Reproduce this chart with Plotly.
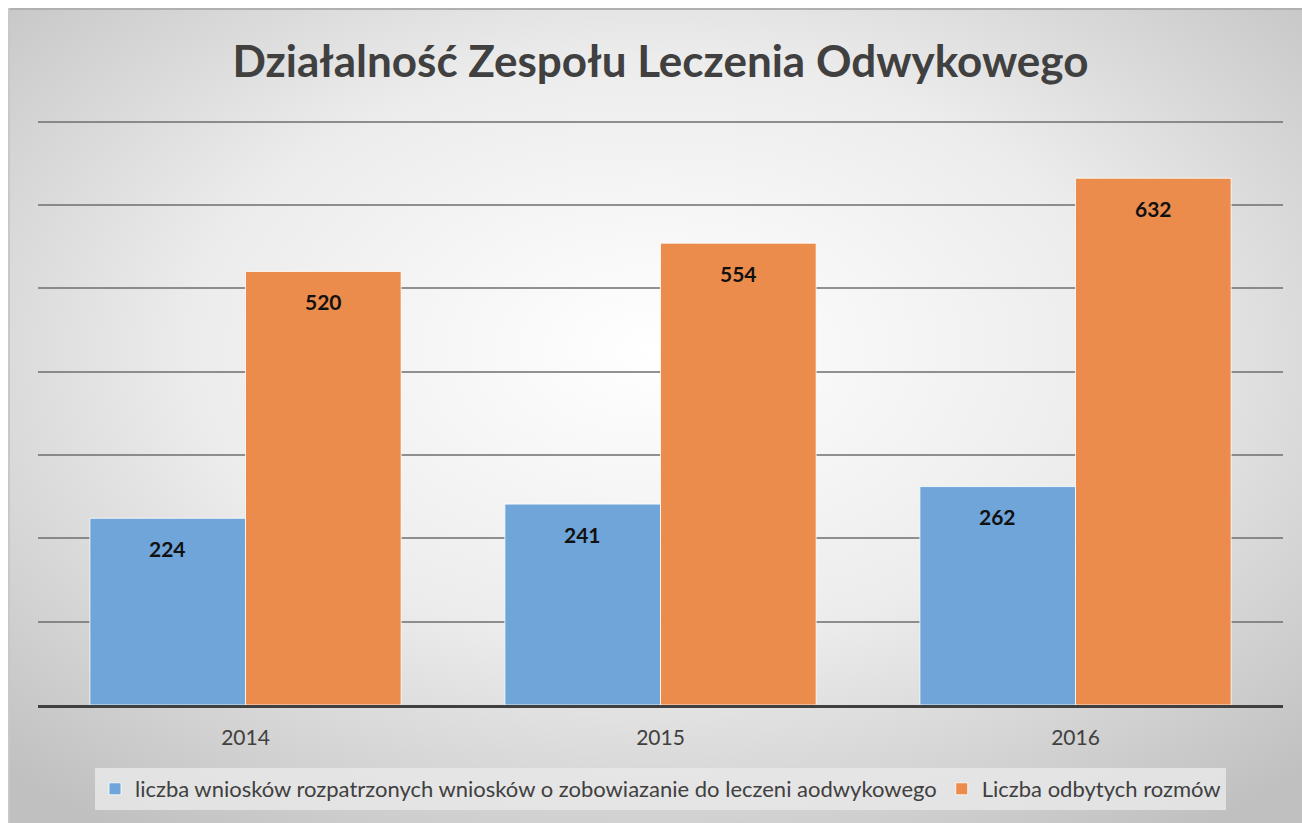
import base64
import plotly.graph_objects as go

years = ["2014", "2015", "2016"]
series1_name = "liczba wniosków rozpatrzonych wniosków o zobowiazanie do leczeni aodwykowego"
series1_vals = [224, 241, 262]
series2_name = "Liczba odbytych rozmów"
series2_vals = [520, 554, 632]
title_text = "Działalność Zespołu Leczenia Odwykowego"

W, H = 1302, 823
YMAX = 703
L, R, T, B = 38, 19, 119, 118
pw, ph = W - L - R, H - T - B
base_px = H - B  # pixel row of the x axis

svg = """<svg xmlns='http://www.w3.org/2000/svg' width='1294' height='815' viewBox='0 0 1294 815' preserveAspectRatio='none'>
<defs><radialGradient id='g' cx='50%' cy='42%' r='72%'>
<stop offset='0%' stop-color='#ffffff'/><stop offset='50%' stop-color='#ececec'/><stop offset='100%' stop-color='#c0c0c0'/>
</radialGradient></defs>
<rect x='0' y='0' width='1294' height='815' fill='url(#g)'/>
<rect x='0' y='0' width='1294' height='2' fill='#b0b0b0'/>
<rect x='0' y='0' width='2' height='815' fill='#c8c8c8'/>
</svg>"""
src = "data:image/svg+xml;base64," + base64.b64encode(svg.encode()).decode()

label_font = dict(family="Lato", size=21, color="#111111", weight="bold")

fig = go.Figure()
fig.add_trace(go.Bar(
    x=years, y=series1_vals, name=series1_name,
    marker=dict(color="#6fa5d9", line=dict(color="rgba(255,255,255,0.8)", width=1)),
))
fig.add_trace(go.Bar(
    x=years, y=series2_vals, name=series2_name,
    marker=dict(color="#eb8c4c", line=dict(color="rgba(255,255,255,0.8)", width=1)),
))

annotations = []
bar_px = pw / len(years) * (1 - 0.25) / 2
for vals, sgn in ((series1_vals, -1), (series2_vals, 1)):
    for i, v in enumerate(vals):
        # category axis: annotation x given as category index
        annotations.append(dict(x=i, y=v, xref="x", yref="y", text=str(v), showarrow=False,
                                xshift=sgn * bar_px / 2, yshift=-30, yanchor="middle",
                                font=label_font))

fig.update_layout(
    width=W, height=H,
    margin=dict(l=L, r=R, t=T, b=B),
    paper_bgcolor="white",
    plot_bgcolor="rgba(0,0,0,0)",
    barmode="group", bargap=0.25, bargroupgap=0,
    font=dict(family="Lato", color="#404040"),
    title=dict(text=title_text, x=0.5, xanchor="center", xref="paper",
               y=1 - 62 / H, yanchor="middle", yref="container",
               font=dict(family="Lato", size=44, color="#404040", weight="bold")),
    xaxis=dict(type="category", showline=True, linecolor="#404040", linewidth=3,
               tickfont=dict(size=21, color="#404040"), ticks="outside", ticklen=12,
               tickcolor="rgba(0,0,0,0)", showgrid=False),
    yaxis=dict(range=[0, YMAX], dtick=100, showticklabels=False, showgrid=True,
               gridcolor="rgba(110,110,110,0.75)", gridwidth=1.5, zeroline=False,
               layer="above traces"),
    legend=dict(orientation="h", x=0.5, xanchor="center", y=(base_px - 789) / ph, yanchor="middle",
                bgcolor="rgba(232,232,232,0.85)", font=dict(size=22, color="#404040"),
                itemwidth=30, traceorder="normal"),
    showlegend=True,
    annotations=annotations,
    images=[dict(source=src, xref="paper", yref="paper",
                 x=(8 - L) / pw, y=(base_px - 8) / ph, sizex=1294 / pw, sizey=815 / ph,
                 xanchor="left", yanchor="top", sizing="stretch", layer="below")],
)

fig.write_html("out.html", config={"displayModeBar": False},
               post_script="document.body.style.margin='0';document.body.style.overflow='hidden';")
